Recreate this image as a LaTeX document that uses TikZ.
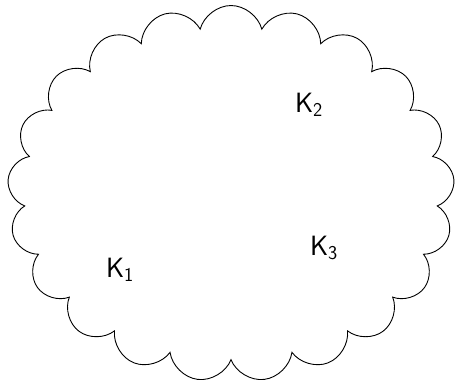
\documentclass[tikz,border=0pt]{standalone}
\usepackage{fontspec}
\usetikzlibrary{shapes.symbols}

\begin{document}
\begin{tikzpicture}[x=1bp,y=-1bp,
  keylabel/.style={font=\sffamily\fontsize{28}{33}\selectfont}]
  \useasboundingbox (0,0) rectangle (459,384);
  \node[cloud,draw,line width=0.9pt,cloud puffs=21,cloud puff arc=150,
        minimum width=447bp,minimum height=376bp,
        inner sep=0pt] (region) at (231,193.5) {};
  \node[keylabel] (k1) at (120,270) {$\mathsf{K}_{\mathsf{1}}$};
  \node[keylabel] (k2) at (309,105) {$\mathsf{K}_{\mathsf{2}}$};
  \node[keylabel] (k3) at (324,248) {$\mathsf{K}_{\mathsf{3}}$};
\end{tikzpicture}
\end{document}
